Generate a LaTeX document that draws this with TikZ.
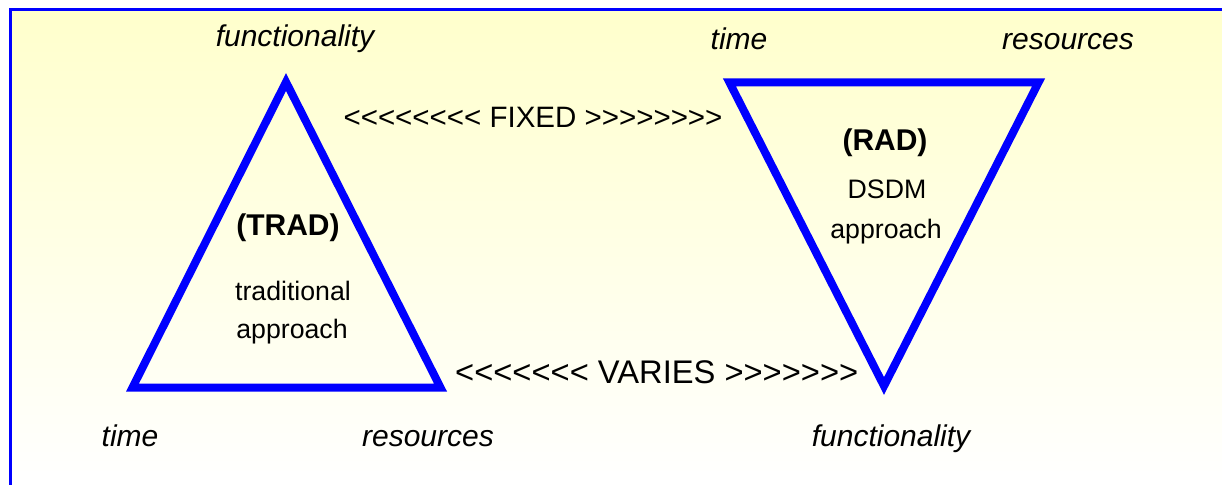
\documentclass[tikz,border=0pt]{standalone}
\usepackage{fontspec}
\setmainfont{Liberation Sans}[Ligatures=TeXOff]
\begin{document}
\begin{tikzpicture}[x=1pt,y=-1pt,
  tri/.style={draw={rgb,255:red,0;green,0;blue,255}, line width=8pt, line join=miter},
  lbl/.style={font=\fontsize{30}{36}\selectfont\itshape, anchor=base, inner sep=0pt},
  body/.style={font=\fontsize{26.7}{32}\selectfont, anchor=base, inner sep=0pt},
  bodyb/.style={font=\fontsize{30}{36}\selectfont\bfseries, anchor=base, inner sep=0pt},
  fixedtxt/.style={font=\fontsize{29.5}{35}\selectfont, anchor=base, inner sep=0pt},
  variestxt/.style={font=\fontsize{32.7}{39}\selectfont, anchor=base, inner sep=0pt}]
\useasboundingbox (0,0) rectangle (1222,484);
\fill[white] (0,0) rectangle (1222,484);
\shade[top color={rgb,255:red,255;green,255;blue,204}, bottom color=white] (10,10) rectangle (1222,484);
\draw[draw={rgb,255:red,0;green,0;blue,255}, line width=3pt] (10,500) -- (10,10) -- (1230,10);
% left triangle
\coordinate (LA) at (286,82);
\coordinate (LL) at (132.5,387.5);
\coordinate (LR) at (440.5,387.5);
\draw[tri] (LA) -- (LR) -- (LL) -- cycle;
% right triangle
\coordinate (RL) at (729.5,82.5);
\coordinate (RR) at (1038.5,82.5);
\coordinate (RB) at (884,386);
\draw[tri] (RL) -- (RR) -- (RB) -- cycle;
% labels
\node[lbl] (lfun) at (295,46.7) {functionality};
\node[lbl] (ltime) at (130,446.7) {time};
\node[lbl] (lres) at (428,446.7) {resources};
\node[lbl] (rtime) at (739,49.5) {time};
\node[lbl] (rres) at (1068,49.5) {resources};
\node[lbl] (rfun) at (891,446.7) {functionality};
% inner texts
\node[bodyb] (trad) at (288,235) {(TRAD)};
\node[body] (trad1) at (293,300) {traditional};
\node[body] (trad2) at (292,338) {approach};
\node[bodyb] (rad) at (885,150) {(RAD)};
\node[body] (rad1) at (887,198) {DSDM};
\node[body] (rad2) at (886,238) {approach};
% middle
\node[fixedtxt] (fixed) at (533,127.5) {<<<<<<<< FIXED >>>>>>>>};
\node[variestxt] (varies) at (656.7,383.5) {<<<<<<< VARIES >>>>>>>};
\end{tikzpicture}
\end{document}
